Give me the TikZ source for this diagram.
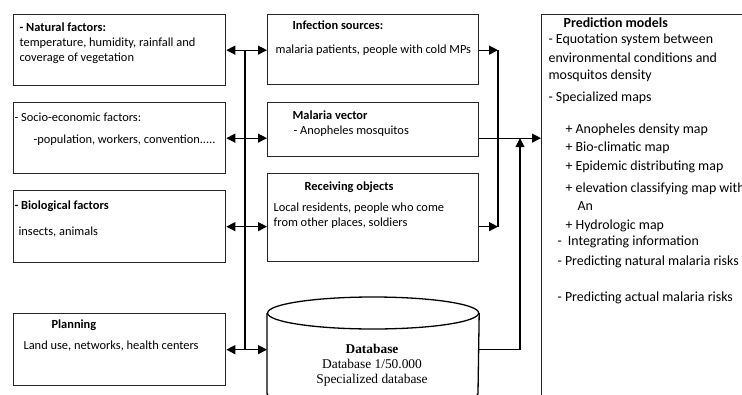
\documentclass[tikz,border=0pt]{standalone}
\usepackage{fontspec}
\setmainfont{Carlito}
\newfontfamily\dbfont{Liberation Serif}
\usetikzlibrary{arrows.meta}

\tikzset{
  box/.style={draw=black!85, line width=1.3pt, anchor=north west, inner sep=0pt},
  txt/.style={anchor=west, inner sep=0pt, align=left, font=\fontsize{12.4}{15}\selectfont},
  bigtxt/.style={anchor=west, inner sep=0pt, font=\fontsize{13.9}{18}\selectfont},
  dbtxt/.style={inner sep=0pt, font=\dbfont\fontsize{13.4}{16}\selectfont},
}

\begin{document}
\begin{tikzpicture}[>={Triangle[length=9pt,width=9pt]}, x=1pt, y=-1pt, line width=1.2pt]
        \useasboundingbox (0,0) rectangle (742,394);
        \clip (0,0) rectangle (742,394);

        % factors on the left
        \draw (13,14) node[box, minimum width=212, minimum height=71] (nat) {};
        \draw (19,27) node[txt] (natH) {\bfseries - Natural factors:};
        \draw (19,50.5) node[txt] (natB) {temperature, humidity, rainfall and\\coverage of vegetation};

        \draw (13,102) node[box, minimum width=212, minimum height=71] (soc) {};
        \draw (14,117) node[txt] (socH) {- Socio-economic factors:};
        \draw (33,140) node[txt] (socB) {-population, workers, convention.....};

        \draw (13,190) node[box, minimum width=212, minimum height=72] (bio) {};
        \draw (14,206) node[txt] (bioH) {\bfseries - Biological factors};
        \draw (18,232) node[txt] (bioB) {insects, animals};

        \draw (13,313) node[box, minimum width=212, minimum height=72] (plan) {};
        \draw (51,325) node[txt] (planH) {\bfseries Planning};
        \draw (23,346) node[txt] (planB) {Land use, networks, health centers};

        % middle column
        \draw (267,14) node[box, minimum width=211, minimum height=70] (inf) {};
        \draw (292,25) node[txt] (infH) {\bfseries Infection sources:};
        \draw (275,50) node[txt] (infB) {malaria patients, people with cold MPs};

        \draw (267,102) node[box, minimum width=211, minimum height=54] (vec) {};
        \draw (292,115) node[txt] (vecH) {\bfseries Malaria vector};
        \draw (293,131) node[txt] (vecB) {- Anopheles mosquitos};

        \draw (267,173) node[box, minimum width=211, minimum height=88] (rec) {};
        \draw (304,187) node[txt] (recH) {\bfseries Receiving objects};
        \draw (273,216) node[txt] (recB) {Local residents, people who come\\from other places, soldiers};

        % database cylinder
        \draw (267,297) node[anchor=north west, inner sep=0pt, minimum width=211, minimum height=111] (db) {};
        \draw[line width=1.3pt] ([yshift=-16pt]db.north) ellipse [x radius=105.5pt, y radius=16pt];
        \draw[line width=1.3pt] ([yshift=-16pt]db.north west) -- ([yshift=16pt]db.south west)
              arc [start angle=180, end angle=360, x radius=105.5pt, y radius=16pt]
              -- ([yshift=-16pt]db.north east);
        \draw (372,349) node[dbtxt] (dbH) {\bfseries Database};
        \draw (372,364) node[dbtxt] (dbA) {Database 1/50.000};
        \draw (372,380) node[dbtxt] (dbB) {Specialized database};

        % prediction models
        \draw (541,14) node[box, minimum width=240, minimum height=420] (pred) {};
        \draw (563,23) node[bigtxt] (predH) {\bfseries Prediction models};
        \draw (548,40) node[bigtxt] (p1) {- Equotation system between};
        \draw (548,58) node[bigtxt] (p2) {environmental conditions and};
        \draw (548,76) node[bigtxt] (p3) {mosquitos density};
        \draw (548,98) node[bigtxt] (p4) {- Specialized maps};
        \draw (565,130) node[bigtxt] (p5) {+ Anopheles density map};
        \draw (565,148) node[bigtxt] (p6) {+ Bio-climatic map};
        \draw (565,167) node[bigtxt] (p7) {+ Epidemic distributing map};
        \draw (565,189) node[bigtxt] (p8) {+ elevation classifying map with};
        \draw (577,206) node[bigtxt] (p9) {An};
        \draw (565,226) node[bigtxt] (p10) {+ Hydrologic map};
        \draw (557,242) node[bigtxt] (p11) {-\hspace{6pt}Integrating information};
        \draw (557,262) node[bigtxt] (p12) {- Predicting natural malaria risks};
        \draw (557,298) node[bigtxt] (p13) {- Predicting actual malaria risks};

        % connectors
        \draw[<->] (nat.east) -- (nat.east -| inf.west);
        \draw[<->] (soc.east) -- (soc.east -| vec.west);
        \draw[<->] (bio.east) -- (bio.east -| rec.west);
        \draw[<->] (plan.east) -- (plan.east -| db.west);
        \coordinate (busL) at (245,0);
        \draw (busL |- nat.east) -- (busL |- plan.east);

        \coordinate (busR) at (498,0);
        \draw[->] (inf.east |- nat.east) -- (busR |- nat.east);
        \draw[->] (rec.east |- bio.east) -- (busR |- bio.east);
        \draw (busR |- nat.east) -- (busR |- bio.east);
        \draw[->] (vec.east |- soc.east) -- (pred.west |- soc.east);

        \coordinate (busD) at (520,0);
        \draw[->] (db.east |- plan.east) -| (busD |- soc.east);
\end{tikzpicture}
\end{document}
